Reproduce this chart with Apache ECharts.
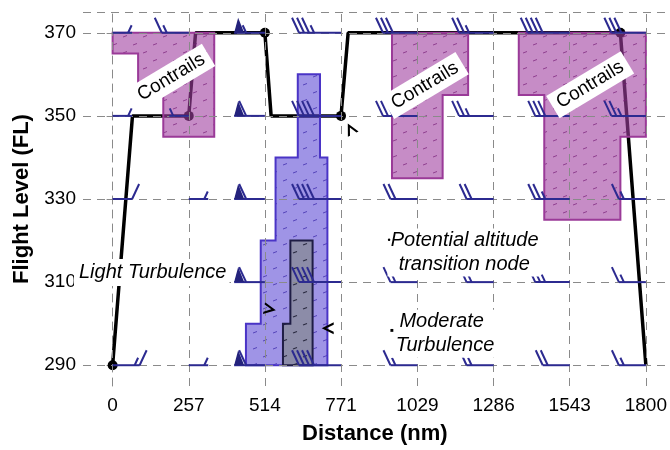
<!DOCTYPE html>
<html>
<head>
<meta charset="utf-8">
<script src="https://cdn.jsdelivr.net/npm/echarts@6/dist/echarts.min.js"></script>
<style>
  html, body { margin: 0; padding: 0; background: #fff; }
  #chart { width: 670px; height: 450px; }
</style>
</head>
<body>
<div id="chart"></div>
<script>
// axis ticks
const distTicks = [0, 257, 514, 771, 1029, 1286, 1543, 1800];
const flTicks = [290, 310, 330, 350, 370];
const frameTop = 375;

// flight path (distance nm, flight level)
const pathDist = [0, 67, 257, 280, 514, 535, 771, 795, 1714, 1800];
const pathFL = [290, 350, 350, 370, 370, 350, 350, 370, 370, 290];

// potential altitude transition nodes
const nodeDist = [0, 257, 514, 771, 1714];
const nodeFL = [290, 350, 370, 350, 370];

// hazard zone outlines [distance, FL]
const contrailZones = [
  [[0, 370], [343, 370], [343, 345], [171, 345], [171, 355], [86, 355], [86, 365], [0, 365]],
  [[943, 370], [1200, 370], [1200, 355], [1114, 355], [1114, 335], [943, 335]],
  [[1371, 370], [1800, 370], [1800, 345], [1714, 345], [1714, 325], [1457, 325], [1457, 355], [1371, 355]]
];
const lightTurbZones = [
  [[625, 360], [700, 360], [700, 340], [725, 340], [725, 290], [450, 290], [450, 300], [500, 300], [500, 320], [550, 320], [550, 340], [625, 340]]
];
const moderateTurbZones = [
  [[600, 320], [675, 320], [675, 290], [575, 290], [575, 300], [600, 300]]
];

// wind barbs: one entry per column of distTicks, [direction, pennants, full, half]
const barbRows = [370, 350, 330, 310, 290];
const barbs370 = [[1, 0, 0, 1], [-1, 0, 1, 1], [-1, 1, 0, 1], [-1, 0, 3, 1], [-1, 0, 3, 0], [-1, 0, 2, 1], [-1, 0, 4, 0], [-1, 0, 3, 0]];
const barbs350 = [[1, 0, 0, 1], [-1, 0, 0, 1], [-1, 1, 1, 0], [-1, 0, 4, 0], [-1, 0, 2, 1], [-1, 0, 2, 1], [-1, 0, 3, 0], [-1, 0, 2, 1]];
const barbs330 = [[1, 0, 1, 0], [1, 0, 0, 1], [-1, 1, 1, 0], [-1, 0, 4, 0], [-1, 0, 2, 0], [-1, 0, 2, 0], [-1, 0, 2, 1], [-1, 0, 1, 1]];
const barbs310 = [[1, 0, 0, 1], [1, 0, 0, 1], [-1, 1, 1, 0], [-1, 0, 4, 0], [-1, 0, 1, 1], [-1, 0, 1, 1], [-1, 0, 2, 1], [-1, 0, 1, 1]];
const barbs290 = [[1, 0, 1, 1], [1, 0, 0, 1], [-1, 1, 1, 0], [-1, 0, 4, 0], [-1, 0, 1, 1], [-1, 0, 1, 1], [-1, 0, 2, 0], [-1, 0, 1, 1]];

// small arrowheads
const arrowDist = [803, 531, 726];
const arrowFL = [346.9, 303.5, 298.9];
const arrowAngle = [27, -100, 90];

// annotations
const contrailLabelDist = [198, 1054, 1612];
const contrailLabelFL = [359.3, 357.3, 357.5];

const FONT = "'Liberation Sans', Arial, Helvetica, sans-serif";
const barbColor = '#2c2a90';

// small dash hatch used inside the zones
function hatch(bg, mark, w) {
  const c = document.createElement('canvas');
  c.width = 20; c.height = 16;
  const g = c.getContext('2d');
  g.fillStyle = bg;
  g.fillRect(0, 0, 20, 16);
  g.strokeStyle = mark;
  g.lineWidth = w;
  [[3, 5], [13, 13]].forEach(([x, y]) => {
    g.beginPath();
    g.moveTo(x, y);
    g.lineTo(x + 4, y - 1.5);
    g.stroke();
  });
  return { image: c, repeat: 'repeat' };
}

function zoneSeries(name, zones, fill, border, z) {
  return {
    type: 'custom',
    name: name,
    z: z,
    silent: true,
    data: zones.map(zn => zn[0]),
    renderItem: (params, api) => {
      const pts = zones[params.dataIndex].map(v => api.coord(v));
      return {
        type: 'polygon',
        shape: { points: pts },
        style: { fill: fill, stroke: border, lineWidth: 2 }
      };
    }
  };
}

function renderBarb(params, api) {
  const p = api.coord([api.value(0), api.value(1)]);
  const dir = api.value(2), pen = api.value(3), full = api.value(4), half = api.value(5);
  const len = 12 + 7.5 * (1.5 * pen + full + half);
  const y = p[1];
  const end = p[0] + dir * len;
  const st = { stroke: barbColor, lineWidth: 2 };
  const kids = [{ type: 'line', shape: { x1: p[0], y1: y, x2: end, y2: y }, style: st }];
  let pos = end;
  for (let i = 0; i < pen; i++) {
    const b = pos - dir * 10;
    kids.push({
      type: 'polygon',
      shape: { points: [[pos, y], [b, y], [(pos + b) / 2 + dir * 1, y - 15]] },
      style: { fill: '#24227c' }
    });
    pos = b - dir * 2;
  }
  for (let i = 0; i < full; i++) {
    kids.push({ type: 'line', shape: { x1: pos, y1: y, x2: pos + dir * 7, y2: y - 15 }, style: st });
    pos -= dir * 5;
  }
  if (half) {
    if (pen + full === 0) pos -= dir * 4;
    kids.push({ type: 'line', shape: { x1: pos, y1: y, x2: pos + dir * 3.5, y2: y - 7.5 }, style: st });
  }
  return { type: 'group', children: kids };
}

const barbData = [];
[barbs370, barbs350, barbs330, barbs310, barbs290].forEach((row, r) => {
  row.forEach((b, c) => barbData.push([distTicks[c], barbRows[r]].concat(b)));
});

const gridStyle = { color: '#8a8a8a', type: [8, 6], width: 1 };

const chart = echarts.init(document.getElementById('chart'));
chart.setOption({
  animation: false,
  backgroundColor: '#fff',
  textStyle: { fontFamily: FONT },
  grid: { left: 83, right: 1, top: 12, bottom: 63 },
  xAxis: {
    type: 'value',
    min: -100,
    max: 1870,
    name: 'Distance (nm)',
    nameLocation: 'middle',
    nameGap: 37,
    nameTextStyle: { fontSize: 22, fontWeight: 'bold', color: '#000', fontFamily: FONT },
    axisLine: { show: false, onZero: false },
    axisTick: { show: false },
    splitLine: { show: false },
    axisLabel: {
      customValues: distTicks, fontSize: 19, color: '#000', margin: 10, fontFamily: FONT,
      formatter: v => String(v)
    }
  },
  yAxis: {
    type: 'value',
    min: 285,
    max: 375,
    name: 'Flight Level (FL)',
    nameLocation: 'middle',
    nameGap: 50,
    nameTextStyle: { fontSize: 22, fontWeight: 'bold', color: '#000', fontFamily: FONT },
    axisLine: { show: true, lineStyle: gridStyle },
    axisTick: { show: true, customValues: flTicks, length: 6, lineStyle: { color: '#8a8a8a' } },
    splitLine: { show: false },
    axisLabel: { customValues: flTicks, fontSize: 19, color: '#000', margin: 7, fontFamily: FONT }
  },
  series: [
    {
      // dashed grid
      type: 'line',
      z: 1,
      data: [],
      silent: true,
      markLine: {
        silent: true,
        symbol: 'none',
        label: { show: false },
        lineStyle: gridStyle,
        data: distTicks.map(v => ({ xAxis: v }))
          .concat(flTicks.map(v => ({ yAxis: v })))
          .concat([{ yAxis: frameTop }])
      }
    },
    {
      type: 'line',
      name: 'Flight path',
      z: 2,
      showSymbol: false,
      lineStyle: { color: '#000', width: 3.5 },
      data: pathDist.map((d, i) => [d, pathFL[i]])
    },
    {
      type: 'scatter',
      name: 'Transition nodes',
      z: 2,
      symbol: 'circle',
      symbolSize: 10,
      itemStyle: { color: '#000', opacity: 1 },
      data: nodeDist.map((d, i) => [d, nodeFL[i]])
    },
    zoneSeries('Contrails', contrailZones, hatch('rgba(160,64,160,0.6)', 'rgba(120,30,120,0.7)', 1), '#9a3a98', 3),
    zoneSeries('Light Turbulence', lightTurbZones, hatch('rgba(80,60,210,0.55)', 'rgba(60,40,170,0.75)', 1), '#4a34c6', 3),
    zoneSeries('Moderate Turbulence', moderateTurbZones, hatch('#8c8ca8', '#2a2a40', 1.2), '#1f1d45', 4),
    {
      type: 'custom',
      name: 'Wind',
      z: 5,
      silent: true,
      data: barbData,
      renderItem: renderBarb
    },
    {
      type: 'scatter',
      name: 'Arrows',
      z: 5,
      symbol: 'path://M0,12 L6,0 L12,12 L9.6,12 L6,4.6 L2.4,12 Z',
      symbolSize: 12,
      itemStyle: { color: '#000', opacity: 1 },
      data: arrowDist.map((d, i) => ({ value: [d, arrowFL[i]], symbolRotate: arrowAngle[i] }))
    },
    {
      type: 'scatter',
      name: 'Notes',
      z: 10,
      symbolSize: 0,
      silent: true,
      itemStyle: { opacity: 1 },
      label: {
        show: true,
        color: '#000',
        fontFamily: FONT,
        fontSize: 20,
        backgroundColor: '#fff'
      },
      data: contrailLabelDist.map((d, i) => ({
        value: [d, contrailLabelFL[i]],
        label: { formatter: 'Contrails', position: 'inside', rotate: 31, fontSize: 19, padding: [4, 6, 3, 6] }
      })).concat([
        {
          value: [132, 312.3],
          label: { formatter: 'Light Turbulence', position: 'inside', fontStyle: 'italic', padding: [4, 3, 3, 5] }
        },
        {
          value: [928, 317.1],
          label: {
            formatter: '{b|•}Potential altitude\n  transition node',
            position: [0, 0], align: 'left', verticalAlign: 'middle',
            fontStyle: 'italic', lineHeight: 24, padding: [0, 2, 0, 0],
            rich: { b: { fontSize: 9, fontStyle: 'normal', color: '#000' } }
          }
        },
        {
          value: [937, 297.6],
          label: {
            formatter: '{s|■} Moderate\n Turbulence',
            position: [0, 0], align: 'left', verticalAlign: 'middle',
            fontStyle: 'italic', lineHeight: 24, padding: [0, 2, 0, 0],
            rich: { s: { fontSize: 6, fontStyle: 'normal', color: '#000', verticalAlign: 'bottom' } }
          }
        }
      ])
    }
  ]
});
</script>
</body>
</html>
